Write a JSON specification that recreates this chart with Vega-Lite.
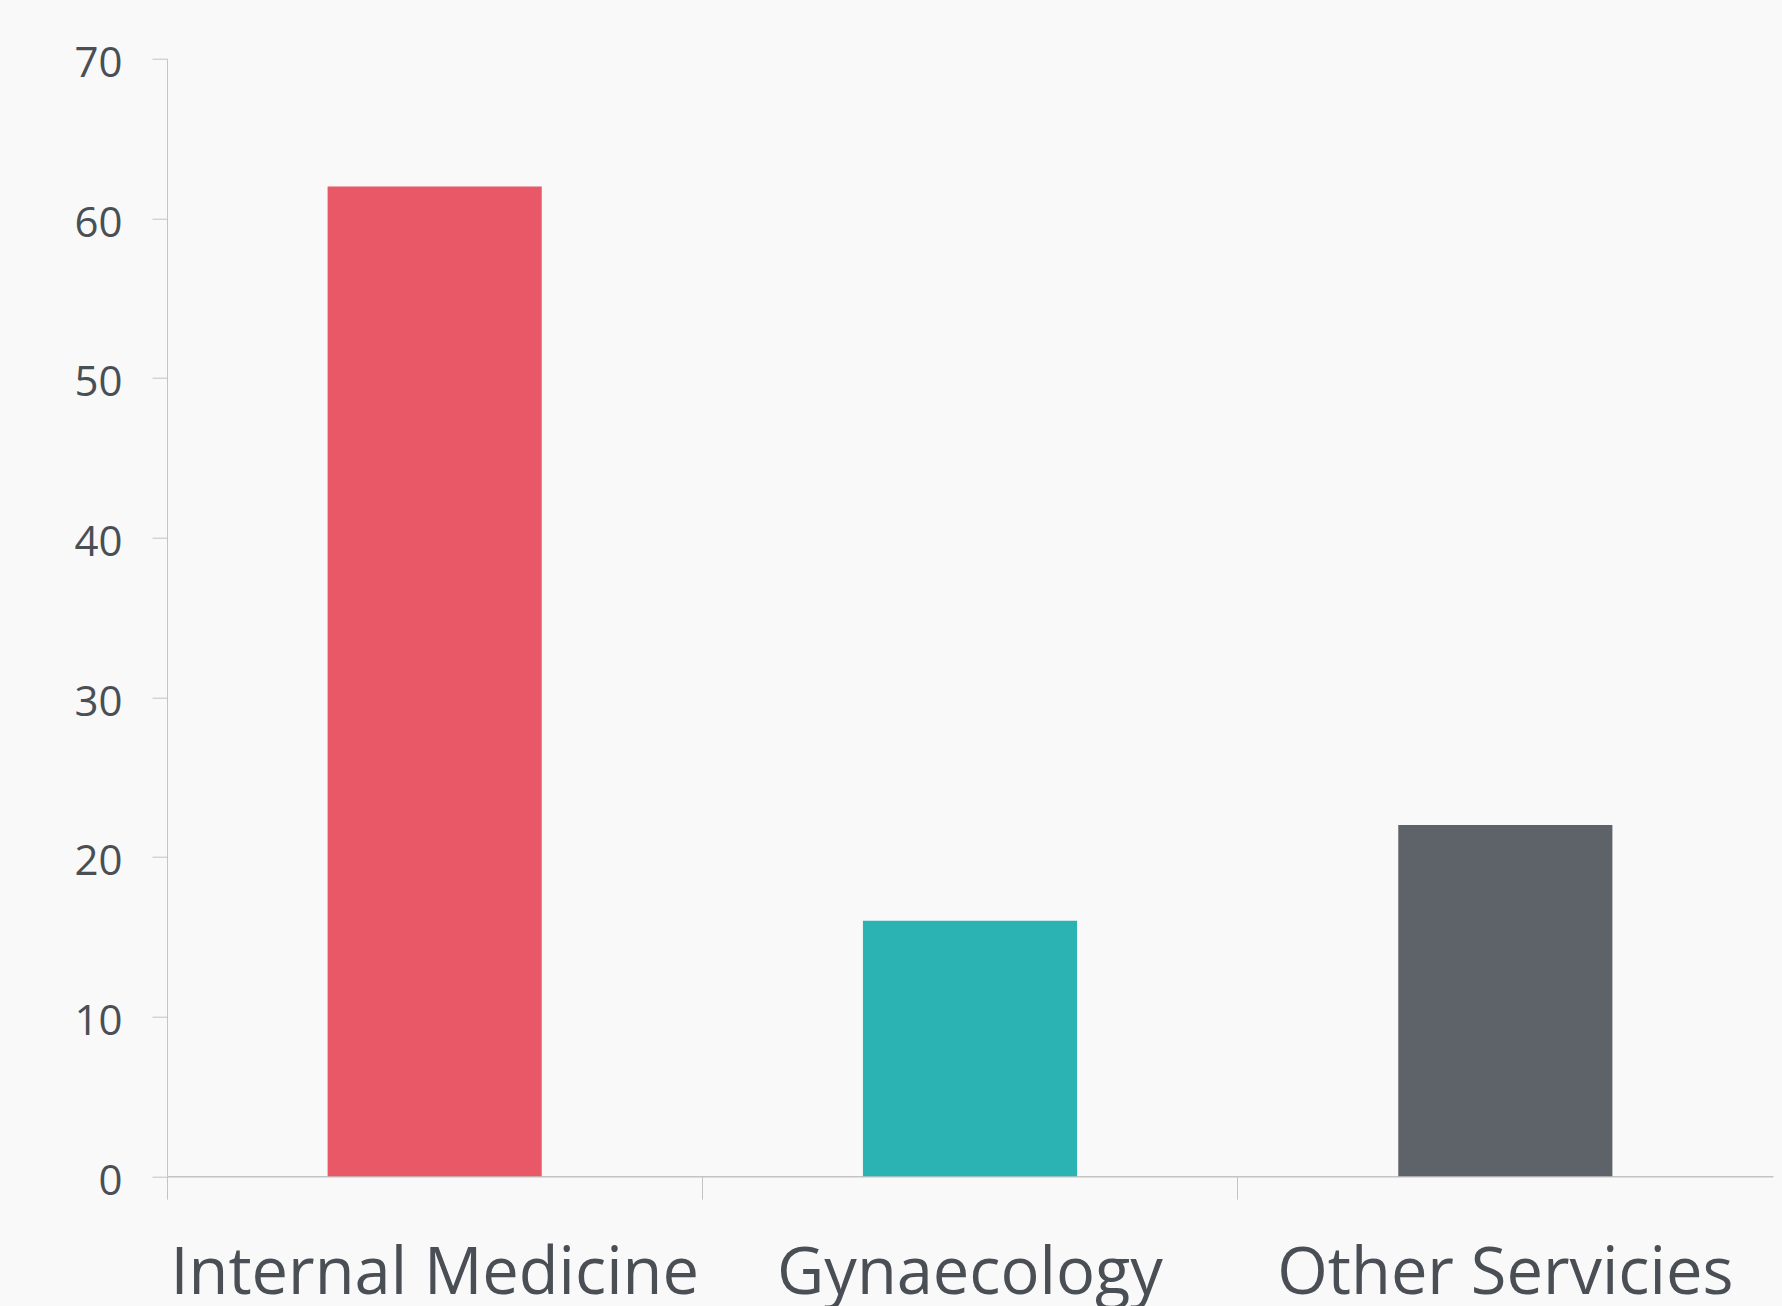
{
  "$schema": "https://vega.github.io/schema/vega-lite/v6.json",
  "autosize": {"type": "none"},
  "width": 1606,
  "height": 1117.5,
  "padding": {"left": 167, "top": 58.7, "right": 9, "bottom": 130},
  "background": "#f9f9f9",
  "config": {"view": {"stroke": null}, "font": "Open Sans"},
  "data": {
    "values": [
      {"service": "Internal Medicine", "value": 62},
      {"service": "Gynaecology", "value": 16},
      {"service": "Other Servicies", "value": 22}
    ]
  },
  "mark": {"type": "bar", "width": {"band": 0.4}},
  "encoding": {
    "x": {
      "field": "service",
      "type": "nominal",
      "sort": null,
      "scale": {"paddingInner": 0, "paddingOuter": 0},
      "axis": {
        "title": null,
        "bandPosition": 0,
        "labelAngle": 0,
        "labelLimit": 0,
        "labelFont": "Open Sans",
        "labelFontSize": 65,
        "labelColor": "#4a4f55",
        "labelPadding": 43,
        "tickSize": 23,
        "tickColor": "#c4c4c4",
        "domainColor": "#c4c4c4",
        "domainWidth": 1.5,
        "grid": false
      }
    },
    "y": {
      "field": "value",
      "type": "quantitative",
      "scale": {"domain": [0, 70], "nice": false},
      "axis": {
        "title": null,
        "values": [0, 10, 20, 30, 40, 50, 60, 70],
        "labelFont": "Open Sans",
        "labelFontSize": 42,
        "labelColor": "#4a4f55",
        "labelPadding": 30,
        "labelOffset": 5,
        "tickSize": 15,
        "tickColor": "#c4c4c4",
        "domainColor": "#c4c4c4",
        "grid": false
      }
    },
    "color": {
      "field": "service",
      "type": "nominal",
      "sort": null,
      "scale": {
        "domain": ["Internal Medicine", "Gynaecology", "Other Servicies"],
        "range": ["#e85867", "#2bb3b3", "#5e636a"]
      },
      "legend": null
    }
  }
}
